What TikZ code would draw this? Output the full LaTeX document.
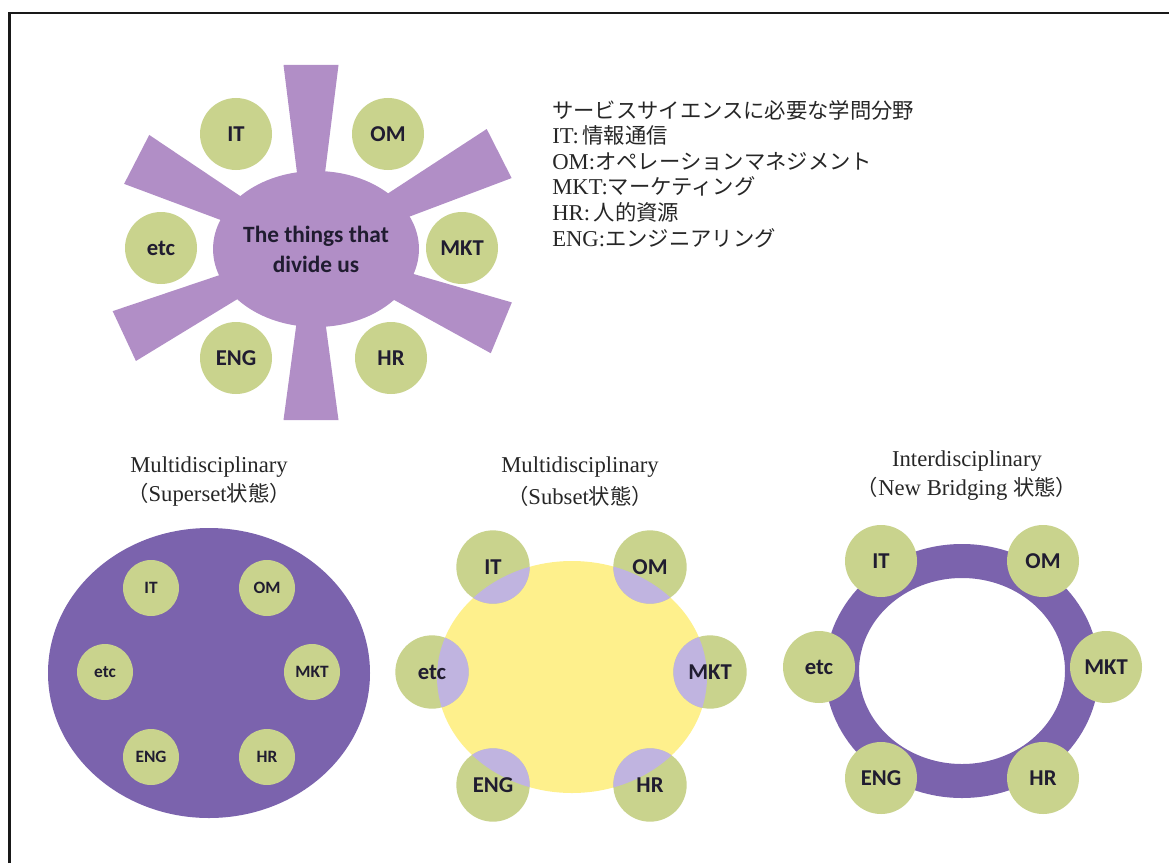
\documentclass[tikz,border=0pt]{standalone}
\usepackage{fontspec}
\setmainfont{Liberation Serif}
\newfontfamily\jpfont{Noto Sans CJK JP}
\newfontfamily\calfont{Carlito}
\usetikzlibrary{calc,shapes.geometric}
\definecolor{rayc}{RGB}{177,142,198}
\definecolor{grn}{RGB}{201,211,141}
\definecolor{dpur}{RGB}{123,99,173}
\definecolor{ylw}{RGB}{254,240,140}
\definecolor{lav}{RGB}{192,180,224}
\definecolor{ink}{RGB}{32,28,48}
\newcommand\jtxt[1]{{\jpfont\fontsize{16}{20}\selectfont #1}}
\begin{document}
\begin{tikzpicture}[x=0.75pt,y=-0.75pt,
  disc/.style={circle, fill=grn, inner sep=0pt, minimum size=54pt,
    font=\calfont\bfseries\fontsize{17}{20}\selectfont, text=ink},
  smalldisc/.style={circle, fill=grn, inner sep=0pt, minimum size=42pt,
    font=\calfont\bfseries\fontsize{13}{16}\selectfont, text=ink},
  bigdisc/.style={circle, fill=grn, inner sep=0pt, minimum size=55pt},
  lbl/.style={inner sep=0pt, font=\calfont\bfseries\fontsize{17}{20}\selectfont, text=ink},
  ttl/.style={inner sep=0pt, font=\fontsize{17}{20}\selectfont, text=black!85},
  legend/.style={inner sep=0pt, anchor=base west, font=\fontsize{17}{20}\selectfont, text=black!85},
  rayfill/.style={fill=rayc},
  frame/.style={line width=1.9pt, draw=black!90}
]
\useasboundingbox (0,0) rectangle (1169,863);
% frame
\draw[frame] (9.5,863) -- (9.5,12.8) -- (1169,12.8);

% ---------- top diagram ----------
\coordinate (rc) at (311,249);
\foreach \a/\l in {-90/184, 90/171, -26.9/211, 22.5/206, 207.2/196, 155/206}{
  \fill[rayfill] ($(rc)+(\a+90:4.5)$) -- ($(rc)+(\a:\l)+(\a+90:27.5)$)
     -- ($(rc)+(\a:\l)+(\a-90:27.5)$) -- ($(rc)+(\a-90:4.5)$) -- cycle;
}
\node[ellipse, fill=rayc, minimum width=141pt, minimum height=117pt, inner sep=0pt,
      align=center, text=ink, font=\calfont\bfseries\fontsize{17.5}{22.5}\selectfont]
      (ctr) at (316,249) {The things that\\divide us};
\node[disc] (tIT)  at (236,134) {IT};
\node[disc] (tOM)  at (388,134) {OM};
\node[disc] (tetc) at (161,248) {etc};
\node[disc] (tMKT) at (462,248) {MKT};
\node[disc] (tENG) at (236,358) {ENG};
\node[disc] (tHR)  at (391,358) {HR};

% legend
\node[legend] (lg1) at (552,118) {\jtxt{サービスサイエンスに必要な学問分野}};
\node[legend] (lg2) at (552,143.6) {IT:\,\jtxt{情報通信}};
\node[legend] (lg3) at (552,169.2) {OM:\jtxt{オペレーションマネジメント}};
\node[legend] (lg4) at (552,194.8) {MKT:\jtxt{マーケティング}};
\node[legend] (lg5) at (552,220.4) {HR:\,\jtxt{人的資源}};
\node[legend] (lg6) at (552,246) {ENG:\jtxt{エンジニアリング}};

% ---------- titles ----------
\node[ttl] (t1a) at (209,467) {Multidisciplinary};
\node[ttl] (t1b) at (209,495) {\jtxt{（}Superset\jtxt{状態）}};
\node[ttl] (t2a) at (580,467) {Multidisciplinary};
\node[ttl] (t2b) at (580,496) {\jtxt{（}Subset\jtxt{状態）}};
\node[ttl] (t3a) at (967,461) {Interdisciplinary};
\node[ttl] (t3b) at (967,489) {\jtxt{（}New Bridging \jtxt{状態）}};

% ---------- superset ----------
\node[ellipse, fill=dpur, minimum width=241.5pt, minimum height=217.5pt, inner sep=0pt]
      (sup) at (209,673) {};
\node[smalldisc] (aIT)  at (151,588) {IT};
\node[smalldisc] (aOM)  at (267,588) {OM};
\node[smalldisc] (aetc) at (105,672) {etc};
\node[smalldisc] (aMKT) at (312,672) {MKT};
\node[smalldisc] (aENG) at (151,757) {ENG};
\node[smalldisc] (aHR)  at (267,757) {HR};

% ---------- subset ----------
\node[ellipse, fill=ylw, minimum width=202.5pt, minimum height=174pt, inner sep=0pt]
      (sub) at (572,677) {};
\foreach \n/\p in {IT/{(493,567)}, OM/{(650,567)}, etc/{(432,672)}, MKT/{(710,672)}, ENG/{(493,785)}, HR/{(650,785)}}{
  \node[bigdisc] (b\n) at \p {};
}
\begin{scope}
  \clip (sub.center) ellipse [x radius=135, y radius=116];
  \foreach \n in {IT,OM,etc,MKT,ENG,HR}{
    \fill[lav] (b\n.center) circle [radius=36.7];
  }
\end{scope}
\foreach \n in {IT,OM,etc,MKT,ENG,HR}{
  \node[lbl] (bl\n) at (b\n) {\n};
}

% ---------- interdisciplinary ring ----------
\node[ellipse, draw=dpur, line width=25.5pt, minimum width=180pt, minimum height=165pt, inner sep=0pt]
      (ring) at (962,671) {};
\node[disc] (cIT)  at (881,561) {IT};
\node[disc] (cOM)  at (1043,561) {OM};
\node[disc] (cetc) at (819,667) {etc};
\node[disc] (cMKT) at (1106,667) {MKT};
\node[disc] (cENG) at (881,778) {ENG};
\node[disc] (cHR)  at (1043,778) {HR};
\end{tikzpicture}
\end{document}
